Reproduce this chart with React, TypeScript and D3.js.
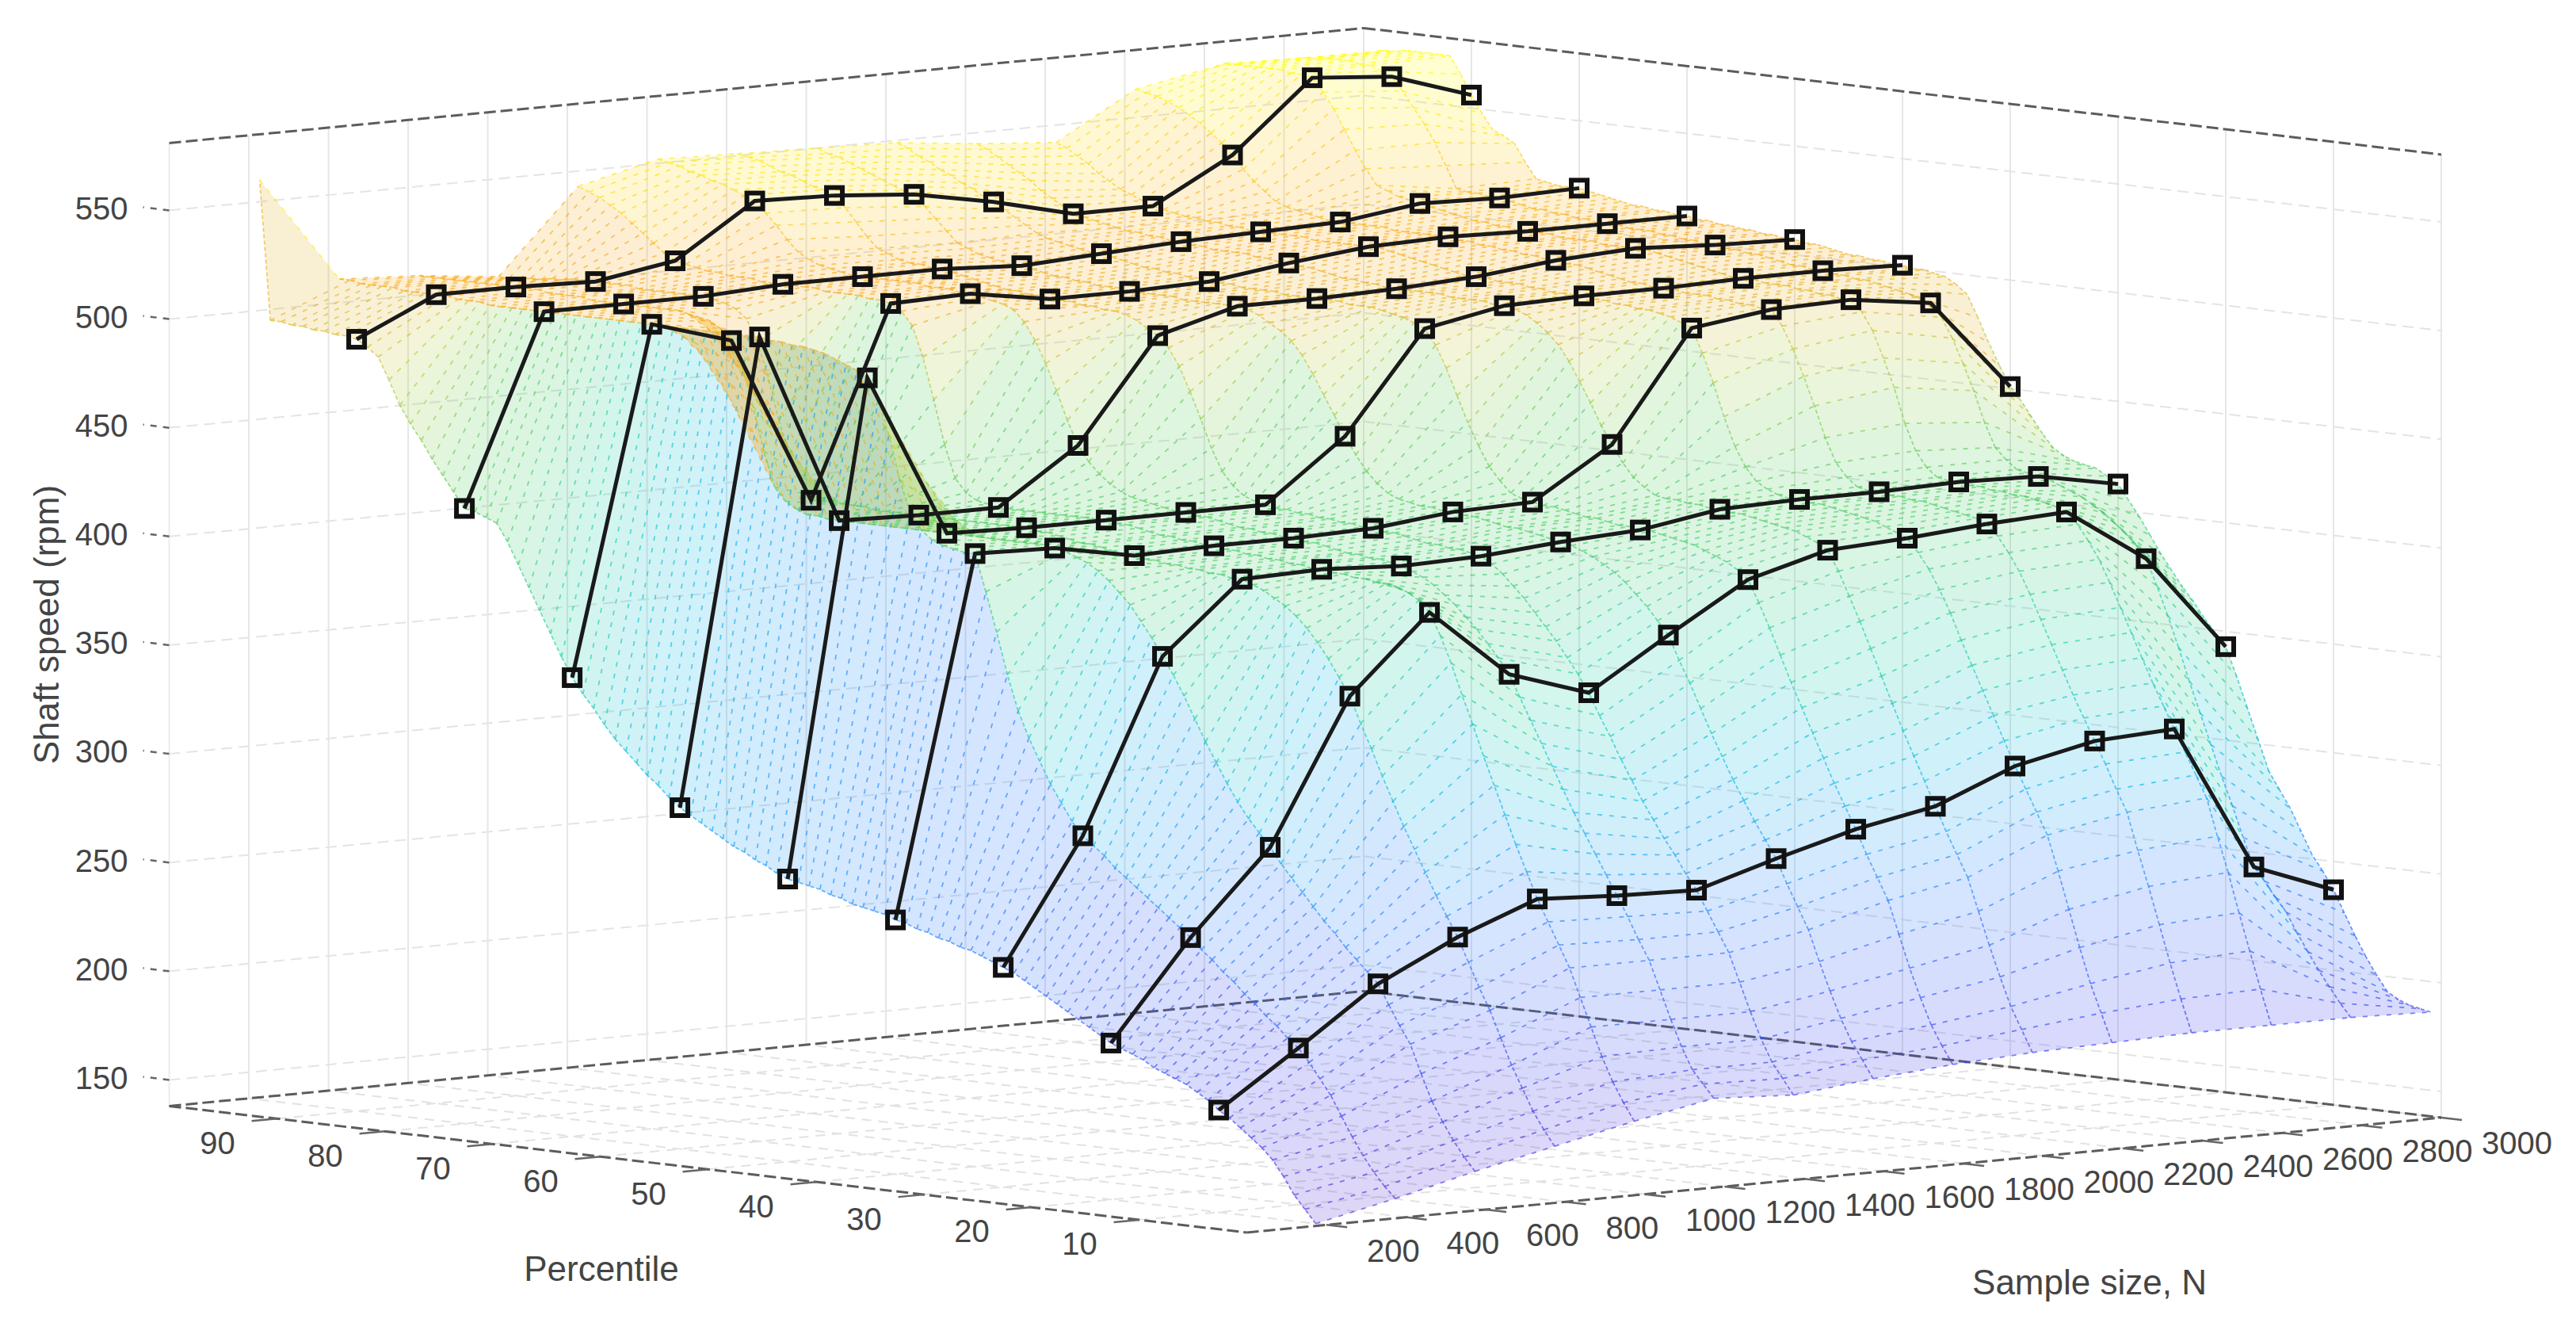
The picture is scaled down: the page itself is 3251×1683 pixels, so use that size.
import React from 'react';
import * as d3 from 'd3';

// percentile rows of the surface (1..99) and sample size columns
const percentiles = d3.range(1, 100);
const sampleSizes = [200, 400, 600, 800, 1000, 1200, 1400, 1600, 1800, 2000, 2200, 2400, 2600, 2800, 3000];

// shaft speed (rpm) read per column, one value per percentile, ten to a line
const n200 = [
  138, 144, 150, 158, 165, 170, 174, 178, 182, 185,
  189, 192, 195, 197, 199, 201, 204, 206, 208, 210,
  213, 216, 219, 222, 225, 228, 231, 234, 237, 239,
  241, 243, 245, 246, 248, 249, 251, 252, 254, 255,
  257, 258, 259, 260, 262, 263, 265, 266, 267, 268,
  270, 273, 275, 278, 280, 283, 286, 289, 292, 295,
  299, 304, 308, 313, 318, 323, 329, 336, 342, 349,
  358, 368, 378, 388, 398, 408, 416, 418, 420, 421,
  428, 435, 442, 450, 457, 465, 476, 486, 490, 493,
  494, 494, 495, 495, 496, 496, 497, 497, 561,
];
const n400 = [
  146, 151, 157, 164, 172, 181, 190, 197, 204, 210,
  214, 219, 223, 228, 232, 237, 241, 246, 250, 255,
  259, 263, 267, 271, 275, 279, 283, 288, 292, 296,
  302, 310, 318, 328, 338, 350, 366, 385, 403, 420,
  420, 421, 422, 424, 428, 435, 450, 470, 485, 495,
  498, 500, 502, 504, 505, 506, 506, 507, 507, 508,
  508, 508, 508, 508, 508, 508, 508, 508, 508, 508,
  508, 508, 508, 508, 508, 508, 508, 508, 508, 508,
  508, 508, 508, 508, 508, 509, 509, 509, 510, 510,
  510, 510, 510, 511, 511, 511, 511, 512, 512,
];
const n600 = [
  155, 161, 168, 176, 185, 197, 210, 218, 227, 236,
  241, 246, 251, 257, 262, 268, 274, 280, 286, 293,
  299, 305, 312, 320, 329, 338, 348, 358, 367, 375,
  383, 390, 397, 402, 407, 411, 414, 416, 418, 419,
  420, 420, 420, 420, 420, 420, 420, 420, 420, 420,
  420, 420, 420, 420, 420, 420, 420, 420, 420, 420,
  420, 421, 421, 423, 426, 432, 448, 468, 485, 497,
  502, 505, 506, 507, 508, 508, 508, 508, 508, 508,
  508, 508, 508, 509, 509, 509, 509, 510, 510, 510,
  510, 510, 510, 510, 510, 510, 510, 510, 510,
];
const n800 = [
  163, 170, 178, 188, 198, 210, 222, 232, 243, 254,
  263, 272, 282, 292, 302, 313, 324, 336, 347, 359,
  367, 375, 382, 388, 393, 397, 400, 403, 405, 407,
  407, 408, 408, 409, 409, 410, 410, 411, 411, 412,
  412, 413, 414, 415, 415, 416, 417, 418, 418, 419,
  419, 419, 419, 419, 419, 419, 419, 419, 419, 419,
  419, 419, 419, 419, 420, 420, 420, 420, 420, 420,
  428, 440, 455, 475, 490, 500, 504, 506, 507, 508,
  508, 508, 508, 508, 508, 508, 509, 509, 509, 509,
  509, 509, 508, 508, 507, 507, 506, 506, 506,
];
const n1000 = [
  171, 179, 188, 199, 212, 225, 238, 248, 258, 268,
  280, 292, 305, 318, 331, 345, 358, 372, 384, 394,
  399, 402, 404, 405, 405, 406, 406, 407, 407, 408,
  408, 409, 409, 410, 410, 411, 411, 412, 412, 413,
  413, 414, 414, 415, 415, 416, 417, 418, 418, 419,
  419, 419, 419, 419, 419, 419, 419, 419, 419, 419,
  420, 421, 424, 430, 445, 465, 484, 498, 504, 507,
  508, 508, 509, 509, 509, 509, 510, 510, 510, 510,
  510, 510, 511, 511, 511, 512, 512, 513, 514, 515,
  518, 522, 526, 530, 534, 537, 540, 542, 544,
];
const n1200 = [
  178, 184, 190, 200, 212, 225, 238, 247, 257, 266,
  275, 284, 293, 302, 312, 322, 332, 342, 352, 362,
  369, 375, 381, 386, 391, 395, 399, 402, 404, 406,
  407, 408, 408, 409, 409, 410, 411, 412, 412, 413,
  413, 414, 414, 415, 415, 416, 417, 418, 418, 419,
  419, 420, 421, 422, 423, 425, 428, 432, 437, 444,
  455, 468, 480, 490, 498, 503, 505, 506, 507, 508,
  508, 509, 509, 509, 510, 510, 510, 510, 510, 510,
  510, 511, 512, 513, 515, 518, 523, 529, 534, 539,
  541, 543, 545, 546, 548, 549, 551, 552, 553,
];
const n1400 = [
  176, 183, 190, 200, 212, 225, 238, 247, 256, 265,
  272, 280, 287, 295, 303, 312, 321, 331, 340, 350,
  358, 365, 372, 378, 384, 390, 395, 400, 404, 407,
  408, 409, 409, 410, 410, 411, 412, 413, 413, 414,
  414, 415, 415, 416, 416, 417, 417, 418, 418, 419,
  420, 422, 426, 432, 442, 455, 467, 478, 486, 491,
  494, 497, 499, 500, 500, 501, 501, 502, 502, 502,
  503, 503, 504, 504, 505, 506, 507, 508, 509, 510,
  510, 511, 511, 512, 514, 516, 521, 527, 533, 538,
  540, 541, 543, 545, 546, 548, 550, 551, 552,
];
const n1600 = [
  180, 188, 196, 206, 218, 231, 245, 255, 265, 276,
  284, 292, 301, 310, 320, 330, 341, 352, 362, 373,
  379, 385, 390, 395, 399, 402, 405, 407, 409, 410,
  411, 412, 413, 414, 414, 415, 416, 417, 417, 418,
  418, 419, 419, 420, 421, 423, 427, 432, 439, 447,
  456, 465, 474, 482, 488, 492, 495, 498, 500, 501,
  501, 501, 501, 501, 501, 502, 502, 502, 502, 502,
  503, 503, 503, 504, 504, 505, 505, 506, 507, 508,
  508, 509, 510, 511, 513, 515, 520, 525, 530, 535,
  536, 538, 540, 542, 544, 546, 548, 549, 551,
];
const n1800 = [
  183, 191, 200, 212, 225, 240, 255, 265, 275, 286,
  296, 306, 317, 328, 339, 350, 362, 374, 385, 395,
  399, 402, 404, 406, 408, 409, 410, 411, 412, 412,
  413, 413, 414, 415, 415, 416, 417, 418, 418, 419,
  420, 422, 427, 433, 442, 452, 464, 476, 486, 493,
  495, 497, 498, 499, 500, 500, 500, 501, 501, 501,
  501, 501, 501, 502, 502, 502, 502, 503, 503, 503,
  504, 504, 505, 505, 506, 506, 507, 508, 509, 510,
  510, 511, 512, 513, 514, 516, 519, 522, 525, 528,
  530, 533, 535, 538, 540, 543, 545, 548, 550,
];
const n2000 = [
  185, 195, 205, 218, 232, 247, 262, 272, 282, 293,
  304, 315, 326, 338, 350, 362, 374, 385, 396, 405,
  408, 410, 412, 413, 414, 415, 416, 417, 417, 418,
  418, 419, 419, 420, 420, 421, 424, 428, 434, 442,
  450, 460, 469, 478, 485, 490, 494, 497, 499, 500,
  500, 501, 501, 501, 501, 502, 502, 502, 502, 502,
  502, 503, 503, 504, 504, 505, 506, 507, 507, 508,
  508, 509, 509, 510, 510, 510, 510, 511, 511, 512,
  512, 513, 513, 514, 514, 515, 516, 517, 518, 519,
  522, 525, 528, 532, 535, 538, 541, 544, 546,
];
const n2200 = [
  186, 199, 212, 228, 245, 262, 278, 288, 298, 308,
  319, 330, 341, 352, 363, 375, 385, 394, 401, 407,
  409, 411, 413, 414, 415, 416, 417, 418, 418, 419,
  419, 420, 422, 425, 431, 440, 453, 468, 481, 492,
  494, 496, 497, 498, 498, 499, 499, 500, 500, 501,
  501, 501, 501, 502, 502, 503, 503, 503, 504, 504,
  504, 505, 506, 507, 508, 509, 510, 511, 512, 512,
  512, 512, 512, 512, 512, 513, 513, 513, 513, 513,
  513, 514, 514, 515, 515, 516, 516, 517, 518, 519,
  521, 523, 525, 528, 531, 535, 538, 541, 543,
];
const n2400 = [
  187, 202, 218, 235, 252, 268, 285, 295, 306, 316,
  326, 336, 347, 358, 369, 380, 390, 398, 405, 410,
  412, 413, 414, 415, 416, 417, 417, 418, 418, 419,
  419, 420, 424, 430, 441, 455, 468, 480, 490, 497,
  497, 498, 498, 499, 499, 500, 500, 500, 501, 501,
  501, 502, 502, 503, 504, 505, 506, 507, 507, 508,
  508, 509, 509, 510, 510, 511, 511, 512, 512, 513,
  513, 513, 513, 513, 513, 514, 514, 514, 514, 514,
  514, 515, 516, 517, 518, 520, 524, 528, 533, 539,
  544, 548, 552, 555, 558, 560, 562, 563, 564,
];
const n2600 = [
  187, 203, 220, 237, 255, 271, 288, 298, 308, 318,
  328, 338, 349, 360, 371, 382, 392, 400, 407, 412,
  414, 415, 416, 417, 417, 418, 418, 419, 419, 420,
  420, 421, 425, 432, 444, 460, 473, 485, 493, 498,
  498, 499, 499, 500, 500, 501, 501, 501, 502, 502,
  502, 503, 504, 505, 506, 507, 508, 509, 510, 510,
  510, 510, 510, 511, 511, 511, 511, 512, 512, 512,
  512, 513, 513, 514, 514, 515, 516, 517, 518, 519,
  520, 521, 523, 525, 532, 540, 549, 558, 565, 571,
  572, 572, 573, 573, 573, 573, 573, 573, 571,
];
const n2800 = [
  187, 193, 200, 207, 215, 223, 232, 238, 245, 251,
  264, 278, 291, 305, 319, 333, 348, 362, 375, 387,
  393, 398, 402, 406, 409, 412, 414, 416, 418, 419,
  420, 421, 425, 430, 441, 455, 467, 478, 487, 493,
  495, 496, 497, 498, 499, 500, 500, 501, 501, 502,
  502, 503, 503, 504, 505, 506, 506, 507, 507, 508,
  508, 509, 509, 510, 510, 511, 511, 511, 512, 512,
  512, 513, 513, 514, 514, 515, 515, 516, 517, 518,
  518, 519, 519, 520, 530, 540, 548, 555, 562, 568,
  570, 572, 572, 573, 573, 573, 572, 572, 571,
];
const n3000 = [
  186, 187, 188, 190, 193, 200, 208, 217, 227, 237,
  245, 252, 262, 272, 280, 288, 302, 316, 330, 343,
  349, 355, 362, 368, 375, 382, 390, 398, 405, 412,
  415, 418, 419, 420, 422, 425, 431, 438, 445, 451,
  460, 470, 481, 491, 495, 498, 499, 500, 500, 501,
  501, 502, 502, 503, 503, 504, 505, 506, 506, 507,
  507, 508, 508, 509, 509, 510, 510, 511, 511, 512,
  512, 513, 513, 514, 514, 515, 516, 517, 518, 519,
  519, 519, 520, 521, 528, 536, 539, 541, 548, 556,
  565, 573, 573, 573, 573, 573, 572, 572, 570,
];
const surfaceColumns = [n200, n400, n600, n800, n1000, n1200, n1400, n1600, n1800, n2000, n2200, n2400, n2600, n2800, n3000];

// black lines run along these percentile rows
const markedPercentiles = [10, 20, 30, 40, 50, 60, 70, 80, 90];

const speedTicks = [150, 200, 250, 300, 350, 400, 450, 500, 550];
const percentileTicks = [10, 20, 30, 40, 50, 60, 70, 80, 90];
const sampleTicks = sampleSizes;

const colorSpeeds = [138, 185, 250, 300, 350, 420, 470, 510, 530, 550, 575];
const colorValues = ['#5a30d8', '#3a40f0', '#2a80ff', '#10b8e8', '#20d0a8', '#50cc60', '#b8cc40', '#f8aa20', '#fcd020', '#fee818', '#ffff10'];

const WIDTH = 3251;
const HEIGHT = 1683;
const FONT = '"Liberation Sans", Arial, sans-serif';

// axes corners in the page: orthographic, so each axis just adds its own offset
const xFromN = d3.scaleLinear().domain([0, 3000]).range([0, 1507.4]);
const xFromP = d3.scaleLinear().domain([100, 0]).range([213.6, 1573.6]);
const yFromN = d3.scaleLinear().domain([0, 3000]).range([0, -145]);
const yFromP = d3.scaleLinear().domain([0, 100]).range([1555, 1395.4]);
const yFromZ = d3.scaleLinear().domain([138, 581]).range([0, -1215]);
const color = d3.scaleLinear<string>().domain(colorSpeeds).range(colorValues);

const project = (n: number, p: number, z: number): [number, number] => [
  xFromP(p) + xFromN(n),
  yFromP(p) + yFromN(n) + yFromZ(z),
];
const line = d3.line();
const seg = (a: [number, number], b: [number, number]) => line([a, b]) as string;

const Z0 = 138;
const Z1 = 581;

const Grid = () => (
  <g fill="none">
    {/* left wall, right wall, floor */}
    {sampleTicks.map(n => (
      <g key={n}>
        <path d={seg(project(n, 100, Z0), project(n, 100, Z1))} stroke="#e6e6e6" strokeWidth={2} />
        <path d={seg(project(n, 0, Z0), project(n, 100, Z0))} stroke="#e2e2e2" strokeWidth={2} strokeDasharray="12 9" />
      </g>
    ))}
    {[...percentileTicks, 100, 0].map(p => (
      <g key={p}>
        <path d={seg(project(3000, p, Z0), project(3000, p, Z1))} stroke="#e6e6e6" strokeWidth={2} />
        <path d={seg(project(0, p, Z0), project(3000, p, Z0))} stroke="#e2e2e2" strokeWidth={2} strokeDasharray="12 9" />
      </g>
    ))}
    {speedTicks.map(z => (
      <g key={z}>
        <path d={seg(project(0, 100, z), project(3000, 100, z))} stroke="#e4e4e4" strokeWidth={2} strokeDasharray="14 8" />
        <path d={seg(project(3000, 100, z), project(3000, 0, z))} stroke="#e4e4e4" strokeWidth={2} strokeDasharray="14 8" />
      </g>
    ))}
    <path d={seg(project(0, 100, Z0), project(0, 100, Z1))} stroke="#ececec" strokeWidth={2} />
  </g>
);

const Box = () => (
  <g fill="none" stroke="#5c5c5c" strokeWidth={3} strokeDasharray="15 6">
    <path d={seg(project(0, 100, Z1), project(3000, 100, Z1))} />
    <path d={seg(project(3000, 100, Z1), project(3000, 0, Z1))} />
    <path d={seg(project(0, 100, Z0), project(3000, 100, Z0))} />
    <path d={seg(project(3000, 100, Z0), project(3000, 0, Z0))} />
    <path d={seg(project(0, 100, Z0), project(0, 0, Z0))} />
    <path d={seg(project(0, 0, Z0), project(3000, 0, Z0))} />
  </g>
);

// each cell and its edges take the flat colour of their first vertex
const Surface = () => {
  const faces: React.ReactElement[] = [];
  const edges: React.ReactElement[] = [];
  sampleSizes.forEach((n, c) => {
    percentiles.forEach((p, r) => {
      const z = surfaceColumns[c][r];
      const hasN = c < sampleSizes.length - 1;
      const hasP = r < percentiles.length - 1;
      if (hasN && hasP) {
        const n2 = sampleSizes[c + 1];
        const p2 = percentiles[r + 1];
        const z01 = surfaceColumns[c][r + 1];
        const z10 = surfaceColumns[c + 1][r];
        const z11 = surfaceColumns[c + 1][r + 1];
        const d = line([project(n, p, z), project(n2, p, z10), project(n2, p2, z11), project(n, p2, z01)]) + 'Z';
        faces.push(<path key={`f${c}-${r}`} d={d} fill={color(z)} fillOpacity={0.2} />);
      }
      if (hasN) {
        const z10 = surfaceColumns[c + 1][r];
        edges.push(<path key={`a${c}-${r}`} d={seg(project(n, p, z), project(sampleSizes[c + 1], p, z10))} stroke={color(z)} strokeDasharray="6 9" />);
      }
      if (hasP) {
        const z01 = surfaceColumns[c][r + 1];
        edges.push(<path key={`b${c}-${r}`} d={seg(project(n, p, z), project(n, percentiles[r + 1], z01))} stroke={color(z)} strokeDasharray="5 3" />);
      }
    });
  });
  return (
    <g>
      <g>{faces}</g>
      <g fill="none" strokeWidth={1.8} strokeOpacity={0.65}>{edges}</g>
    </g>
  );
};

const MarkedLines = () => (
  <g>
    {markedPercentiles.map(p => {
      const r = percentiles.indexOf(p);
      const pts = sampleSizes.map((n, c) => project(n, p, surfaceColumns[c][r]));
      return (
        <g key={p}>
          <path d={line(pts) as string} fill="none" stroke="#1a1a1a" strokeWidth={5} />
          {pts.map(([x, y], i) => (
            <rect key={i} x={x - 10} y={y - 10} width={20} height={20} fill="none" stroke="#111" strokeWidth={6} />
          ))}
        </g>
      );
    })}
  </g>
);

const Axes = () => {
  const textProps = { fontFamily: FONT, fill: '#444444' };
  return (
    <g>
      {speedTicks.map(z => {
        const [x, y] = project(0, 100, z);
        return (
          <g key={z}>
            <path d={`M${x},${y}l-33,-4`} stroke="#666" strokeWidth={2.5} strokeDasharray="8 8" />
            <text x={x - 52} y={y - 3} dy="0.36em" textAnchor="end" fontSize={40} {...textProps}>{z}</text>
          </g>
        );
      })}
      {percentileTicks.map(p => {
        const [x, y] = project(0, p, Z0);
        return (
          <g key={p}>
            <path d={`M${x},${y}l-32,3`} stroke="#666" strokeWidth={2.5} />
            <text x={x - 75} y={y + 30} dy="0.36em" textAnchor="middle" fontSize={40} {...textProps}>{p}</text>
          </g>
        );
      })}
      {sampleTicks.map(n => {
        const [x, y] = project(n, 0, Z0);
        return (
          <g key={n}>
            <path d={`M${x},${y}l26,3`} stroke="#666" strokeWidth={2.5} />
            <text x={x + 51} y={y + 32} dy="0.36em" textAnchor="start" fontSize={40} {...textProps}>{n}</text>
          </g>
        );
      })}
      <text x={759} y={1600} dy="0.36em" textAnchor="middle" fontSize={44} {...textProps}>Percentile</text>
      <text x={2637} y={1617} dy="0.36em" textAnchor="middle" fontSize={44} {...textProps}>Sample size, N</text>
      <text transform="translate(58,788) rotate(-90)" dy="0.36em" textAnchor="middle" fontSize={44} {...textProps}>Shaft speed (rpm)</text>
    </g>
  );
};

export default function App() {
  return (
    <svg width={WIDTH} height={HEIGHT} viewBox={`0 0 ${WIDTH} ${HEIGHT}`} style={{ position: 'absolute', left: 0, top: 0, background: '#fff' }}>
      <Grid />
      <Box />
      <Axes />
      <Surface />
      <MarkedLines />
    </svg>
  );
}
